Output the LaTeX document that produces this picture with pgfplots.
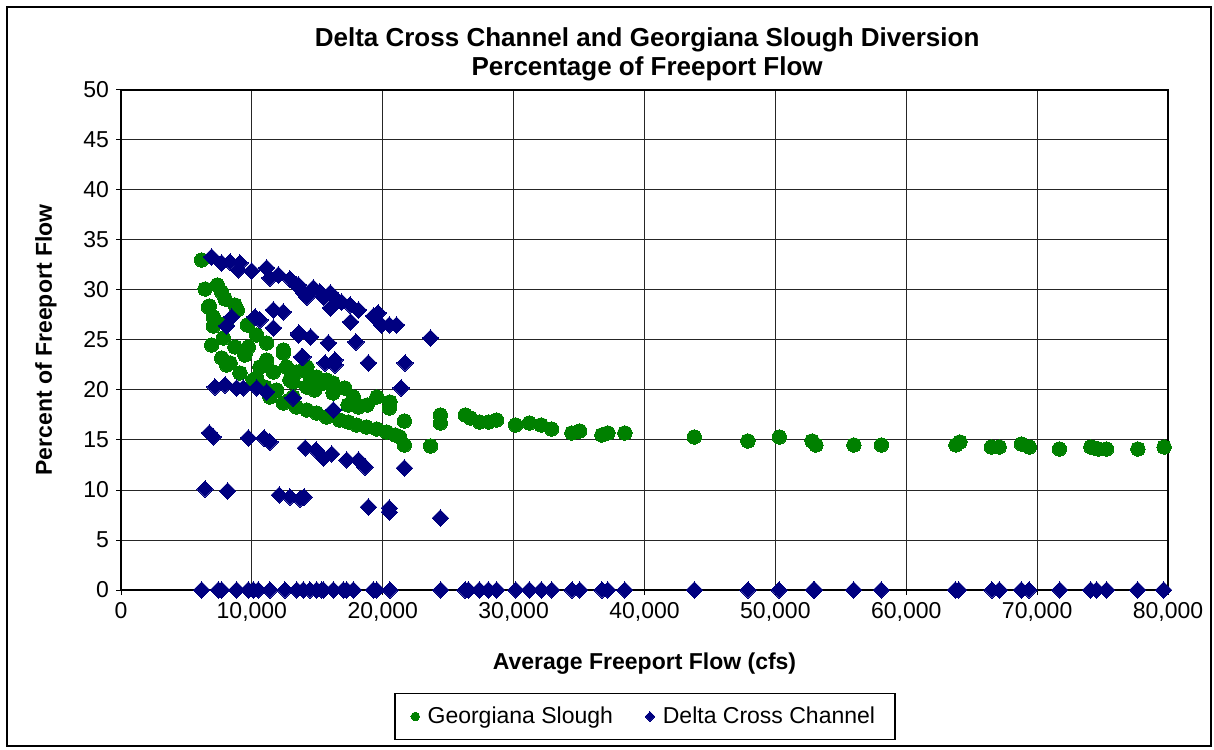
\documentclass[border=0pt]{standalone}
\usepackage{pgfplots}
\pgfplotsset{compat=1.18}
\usepackage{pgfplotstable}
\usepackage{fontspec}
\setmainfont{Liberation Sans}
\definecolor{gsgreen}{RGB}{0,128,0}
\definecolor{dccnavy}{RGB}{0,0,128}

% Georgiana Slough, percent of Freeport flow
\pgfplotstableread{
x y
6160 33.0
6420 30.1
6680 28.3
6750 28.4
6930 24.5
7050 27.3
7050 26.4
7360 30.5
7690 29.8
7700 23.2
7820 25.2
7950 29.1
8070 22.5
8080 26.7
8330 22.7
8710 28.5
8880 28.0
8710 24.3
9090 21.7
9470 23.5
9730 24.3
9650 26.5
10100 21.0
10360 25.5
10360 21.2
10620 22.3
11000 20.3
11130 24.7
11130 23.0
11380 19.3
11640 21.8
11900 20.0
12400 24.0
12400 23.7
12400 18.7
12650 22.3
12900 21.0
12900 19.0
13150 20.8
13150 19.3
13400 21.8
13400 18.3
13950 22.0
14200 22.3
14200 20.3
14200 18.0
14450 21.3
14800 20.0
14950 21.3
14950 17.7
15450 20.7
15700 21.0
15700 17.3
16200 20.7
16200 19.7
16700 17.0
17100 20.2
17350 18.5
17350 16.8
17750 19.3
18000 16.5
18150 18.3
18750 16.3
18800 18.5
19550 19.3
19550 16.1
20300 15.8
20550 18.8
20500 18.2
20950 15.5
21300 15.3
21650 16.9
21650 14.5
23650 14.4
24400 17.5
24400 16.7
26300 17.5
26700 17.2
27400 16.8
28100 16.8
28700 17.0
30150 16.5
31200 16.7
32100 16.5
32900 16.1
34450 15.7
35050 15.9
36750 15.5
37200 15.7
38500 15.7
43800 15.3
47900 14.9
50300 15.3
52800 14.9
53100 14.5
56000 14.5
58100 14.5
63800 14.5
64100 14.8
66500 14.3
67100 14.3
68800 14.6
69400 14.3
71700 14.1
74100 14.3
74400 14.2
74700 14.1
75300 14.1
77700 14.1
79700 14.3
}\gstable

% Delta Cross Channel, percent of Freeport flow
\pgfplotstableread{
x y
6930 33.3
7690 32.7
8330 32.8
9090 32.7
8960 32.0
9980 31.9
11130 32.2
11380 31.2
12020 31.5
12910 31.1
13400 30.5
13550 30.5
13930 29.7
14200 29.3
14700 30.2
15200 29.8
15460 29.3
16000 29.7
16350 29.2
16850 28.8
17500 28.5
18150 28.0
16000 28.2
8460 27.3
8070 26.4
10240 27.3
10620 27.0
11640 28.0
12400 27.8
11640 26.2
17550 26.8
19300 27.4
19650 27.7
19900 26.5
20500 26.5
21050 26.5
23650 25.2
13550 25.5
13600 25.7
14490 25.3
15850 24.7
17950 24.8
13800 23.3
13900 23.3
15590 22.7
16350 23.0
16350 22.5
18900 22.7
21700 22.7
21400 20.2
7180 20.3
7950 20.5
8840 20.2
9340 20.2
10370 20.2
11130 19.8
13150 19.2
16230 18.0
6750 15.7
7050 15.3
9730 15.2
10930 15.2
11380 14.8
14080 14.2
14900 14.0
15460 13.2
16100 13.6
17250 13.0
18150 13.0
18650 12.3
21650 12.2
6420 10.1
8150 9.9
12090 9.5
12910 9.3
13680 9.1
13990 9.3
18900 8.3
20500 8.2
20500 7.8
24400 7.2
6160 0
7440 0
7690 0
8840 0
9730 0
10110 0
10490 0
11380 0
12530 0
13430 0
13930 0
14440 0
14950 0
15340 0
15460 0
16230 0
16990 0
17240 0
17750 0
19280 0
19540 0
20550 0
24430 0
26290 0
26540 0
27380 0
28070 0
28700 0
30160 0
31200 0
32120 0
32910 0
34460 0
35050 0
36750 0
37190 0
38490 0
43810 0
47910 0
50280 0
52900 0
53000 0
55980 0
58090 0
63750 0
64010 0
66550 0
67110 0
68790 0
69380 0
71730 0
74090 0
74550 0
75310 0
77680 0
79670 0
}\dcctable

\begin{document}
\begin{tikzpicture}
\begin{axis}[
  scale only axis,
  width=523.5pt, height=250pt,
  xmin=0, xmax=80000, ymin=0, ymax=50,
  xtick={0,10000,...,80000},
  ytick={0,5,...,50},
  scaled x ticks=false,
  xticklabel style={/pgf/number format/.cd, 1000 sep={,}},
  /pgf/number format/assume math mode=true,
  tick label style={font=\fontsize{11.5}{13}\selectfont, black},
  tick align=outside,
  major tick length=2.5pt,
  xtick pos=bottom, ytick pos=left,
  tick style={black, line width=0.5pt},
  grid=major,
  major grid style={black!85, line width=0.5pt},
  axis line style={black, line width=0.6pt},
  clip=false,
  title={Delta Cross Channel and Georgiana Slough Diversion\\Percentage of Freeport Flow},
  title style={at={(0.5025,1.047)}, anchor=center, align=center,
    font=\bfseries\fontsize{13}{14.5}\selectfont},
  xlabel={Average Freeport Flow (cfs)},
  xlabel style={at={(axis description cs:0.5,-0.147)}, anchor=center,
    font=\bfseries\fontsize{11.5}{13}\selectfont},
  ylabel={Percent of Freeport Flow},
  ylabel style={at={(axis description cs:-0.0716,0.5)}, anchor=center,
    font=\bfseries\fontsize{11.5}{13}\selectfont},
  legend columns=2,
  legend image post style={scale=0.6},
  legend style={at={(0.5005,-0.253)}, anchor=center, draw=black,
    line width=0.6pt, font=\fontsize{11.5}{13}\selectfont,
    inner xsep=8pt, inner ysep=4.5pt,
    /tikz/every odd column/.append style={column sep=2pt},
    /tikz/every even column/.append style={column sep=14pt}},
]
\addplot[only marks, mark=*, mark size=3.6pt,
  mark options={draw=gsgreen, fill=gsgreen, line width=0pt}]
  table[x=x, y=y] {\gstable};
\addlegendentry{Georgiana Slough}
\addplot[only marks, mark=square*, mark size=2.9pt,
  mark options={rotate=45, draw=dccnavy, fill=dccnavy, line width=0pt}]
  table[x=x, y=y] {\dcctable};
\addlegendentry{Delta Cross Channel}
\end{axis}
% outer chart frame and page extent
\draw[black, line width=0.75pt]
  ([shift={(-57pt,-78pt)}]current axis.south west) rectangle
  ([shift={(21.5pt,41.5pt)}]current axis.north east);
\pgfresetboundingbox
\path ([shift={(-60.5pt,-79.5pt)}]current axis.south west) rectangle
  ([shift={(23pt,45pt)}]current axis.north east);
\end{tikzpicture}
\end{document}
